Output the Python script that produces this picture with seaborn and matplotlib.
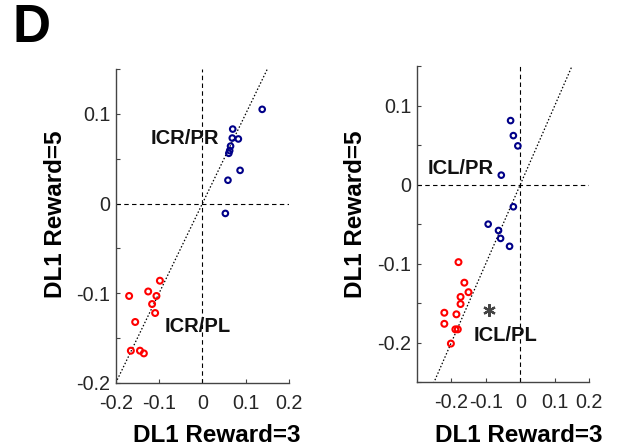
import numpy as np
import pandas as pd
import seaborn as sns
from matplotlib import pyplot as plt

# left panel (ICR)
icr_pr_x = [0.138, 0.070, 0.069, 0.083, 0.065, 0.063, 0.061, 0.087, 0.059, 0.053]
icr_pr_y = [0.105, 0.083, 0.073, 0.072, 0.064, 0.059, 0.056, 0.037, 0.026, -0.011]
icr_pl_x = [-0.169, -0.098, -0.125, -0.106, -0.116, -0.109, -0.155, -0.165, -0.144, -0.135]
icr_pl_y = [-0.103, -0.086, -0.098, -0.103, -0.112, -0.122, -0.132, -0.164, -0.164, -0.167]

# right panel (ICL)
icl_pr_x = [-0.028, -0.020, -0.007, -0.055, -0.020, -0.093, -0.063, -0.057, -0.031]
icl_pr_y = [0.081, 0.062, 0.049, 0.012, -0.028, -0.050, -0.058, -0.068, -0.078]
icl_pl_x = [-0.179, -0.162, -0.150, -0.173, -0.173, -0.220, -0.185, -0.220, -0.188, -0.181, -0.201]
icl_pl_y = [-0.098, -0.124, -0.136, -0.142, -0.151, -0.162, -0.164, -0.176, -0.183, -0.183, -0.201]
star_x, star_y = [-0.090], [-0.159]

xticks = [-0.2, -0.1, 0, 0.1, 0.2]
xticklabels = ['-0.2', '-0.1', '0', '0.1', '0.2']

sns.set_style('ticks')
plt.rcParams['font.family'] = ['Liberation Sans', 'DejaVu Sans']
plt.rcParams['xtick.direction'] = 'in'
plt.rcParams['ytick.direction'] = 'in'

fig = plt.figure(figsize=(6.17, 4.47), dpi=100)
ax1 = fig.add_axes([0.1875, 0.1432, 0.281, 0.7025])
ax2 = fig.add_axes([0.6754, 0.1447, 0.2797, 0.7076])

blue = '#000088'
red = '#ff0000'


def panel(ax, pr_x, pr_y, pl_x, pl_y, xlim, ylim, yticks):
    ax.axhline(0, color='k', ls=(0, (4, 3)), lw=0.8, zorder=1)
    ax.axvline(0, color='k', ls=(0, (4, 3)), lw=0.8, zorder=1)
    d = np.array([min(xlim[0], ylim[0]), max(xlim[1], ylim[1])])
    ax.plot(d, d, color='k', ls=(0, (1.2, 1.6)), lw=0.9, zorder=1)
    df = pd.DataFrame({'x': pr_x + pl_x, 'y': pr_y + pl_y,
                       'grp': ['PR'] * len(pr_x) + ['PL'] * len(pl_x)})
    sns.scatterplot(data=df[df.grp == 'PR'], x='x', y='y', ax=ax, color=blue,
                    facecolor='none', edgecolor=blue, linewidth=1.5, s=16, zorder=3)
    sns.scatterplot(data=df[df.grp == 'PL'], x='x', y='y', ax=ax, color=red,
                    facecolor='none', edgecolor=red, linewidth=1.5, s=18, zorder=3)
    ax.set_xlim(xlim)
    ax.set_ylim(ylim)
    ax.set_xticks(xticks)
    ax.set_xticklabels(xticklabels)
    ax.set_yticks(yticks)
    ax.set_yticklabels([('0' if abs(v) < 1e-9 else f'{v:.1f}') if abs(round(v * 10) - v * 10) < 1e-6 else ''
                        for v in yticks])
    sns.despine(ax=ax)
    for sp in ['left', 'bottom']:
        ax.spines[sp].set_color('#444444')
        ax.spines[sp].set_linewidth(1.0)
    ax.tick_params(axis='both', colors='#444444', labelcolor='#262626', labelsize=14.2,
                   length=3, width=0.8)
    ax.tick_params(axis='x', pad=8)
    ax.tick_params(axis='y', pad=4)
    ax.set_xlabel('DL1 Reward=3', fontsize=17.5, fontweight='bold', color='k')
    ax.set_ylabel('DL1 Reward=5', fontsize=17.5, fontweight='bold', color='k')
    ax.xaxis.label.set_va('center')
    ax.yaxis.label.set_va('center')


panel(ax1, icr_pr_x, icr_pr_y, icr_pl_x, icr_pl_y, (-0.2, 0.2), (-0.2, 0.15),
      list(np.round(np.arange(-0.2, 0.151, 0.05), 2)))
ax1.xaxis.set_label_coords(0.585, -0.166)
ax1.yaxis.set_label_coords(-0.35, 0.538)
ax1.text(-0.041, 0.073, 'ICR/PR', fontsize=14.5, fontweight='bold', ha='center', va='center', color='#111111')
ax1.text(-0.01, -0.137, 'ICR/PL', fontsize=14.5, fontweight='bold', ha='center', va='center', color='#111111')

panel(ax2, icl_pr_x, icl_pr_y, icl_pl_x, icl_pl_y, (-0.3, 0.2), (-0.25, 0.15),
      list(np.round(np.arange(-0.25, 0.151, 0.05), 2)))
ax2.xaxis.set_label_coords(0.593, -0.167)
ax2.yaxis.set_label_coords(-0.357, 0.532)
ax2.text(-0.174, 0.020, 'ICL/PR', fontsize=14.5, fontweight='bold', ha='center', va='center', color='#111111')
ax2.text(-0.042, -0.191, 'ICL/PL', fontsize=14.5, fontweight='bold', ha='center', va='center', color='#111111')
ax2.plot(star_x, star_y, marker=(6, 2, 0), ms=9, mew=1.6, color='#444444', ls='none', zorder=4)

fig.text(0.021, 0.938, 'D', fontsize=38, fontweight='bold', ha='left', va='center', color='k')

fig.savefig('out.png', dpi=100)
